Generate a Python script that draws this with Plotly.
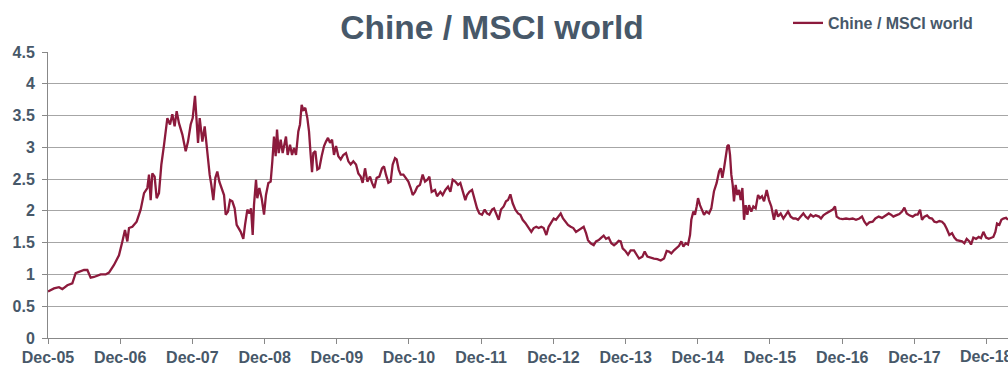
import numpy as np
import pandas as pd
import plotly.graph_objects as go

# years elapsed since Dec-05 and ratio values
t_years = [
    0.000, 0.083, 0.152, 0.199, 0.268, 0.337, 0.383, 0.429, 0.499, 0.545, 0.591, 0.637, 0.729, 0.799,
    0.845, 0.914, 0.983, 1.030, 1.066, 1.099, 1.122, 1.168, 1.228, 1.283, 1.330, 1.376, 1.399, 1.422,
    1.445, 1.477, 1.505, 1.537, 1.570, 1.607, 1.653, 1.690, 1.722, 1.754, 1.782, 1.814, 1.861, 1.907,
    1.939, 1.976, 2.004, 2.036, 2.059, 2.078, 2.101, 2.138, 2.170, 2.207, 2.239, 2.262, 2.290, 2.318,
    2.345, 2.373, 2.405, 2.438, 2.461, 2.493, 2.521, 2.553, 2.585, 2.613, 2.669, 2.705,
    2.729, 2.761, 2.789, 2.812, 2.835, 2.853, 2.881, 2.899, 2.927, 2.959, 2.992, 3.019, 3.052, 3.084,
    3.107, 3.130, 3.153, 3.172, 3.195, 3.223, 3.250, 3.273, 3.296, 3.319, 3.352, 3.380, 3.407, 3.435,
    3.467, 3.490, 3.513, 3.536, 3.564, 3.592, 3.615, 3.638, 3.657, 3.675, 3.703, 3.730, 3.758, 3.790,
    3.823, 3.850, 3.878, 3.906, 3.934, 3.961, 3.989, 4.021, 4.054, 4.090, 4.127, 4.160, 4.192, 4.229,
    4.266, 4.298, 4.331, 4.358, 4.391, 4.423, 4.460, 4.488, 4.520, 4.552, 4.589, 4.626, 4.654, 4.681,
    4.714, 4.746, 4.774, 4.806, 4.829, 4.857, 4.885, 4.922, 4.954, 4.991, 5.023, 5.051, 5.083, 5.115,
    5.152, 5.189, 5.222, 5.254, 5.282, 5.314, 5.360,
    5.388, 5.434, 5.466, 5.503, 5.540, 5.573, 5.605, 5.642, 5.679, 5.711, 5.743, 5.780, 5.803, 5.836,
    5.873, 5.910, 5.942, 5.974, 6.011, 6.048, 6.080, 6.113, 6.150, 6.177, 6.205, 6.242, 6.274, 6.311,
    6.343, 6.371, 6.404, 6.436, 6.473, 6.510, 6.542, 6.574, 6.611, 6.657, 6.694, 6.727, 6.763, 6.796,
    6.833, 6.865, 6.902, 6.934, 6.971, 7.004, 7.036, 7.073, 7.101, 7.133, 7.165, 7.202, 7.239, 7.276,
    7.313, 7.350, 7.387, 7.419, 7.452, 7.479, 7.516, 7.558, 7.590, 7.627, 7.664, 7.696, 7.729, 7.765,
    7.802, 7.839, 7.872, 7.904, 7.932, 7.959, 7.996, 8.033,
    8.070, 8.116, 8.153, 8.186, 8.232, 8.264, 8.301, 8.347, 8.393, 8.440, 8.486, 8.532, 8.569, 8.601,
    8.633, 8.670, 8.707, 8.740, 8.772, 8.800, 8.832, 8.864, 8.892, 8.910, 8.938, 8.961, 8.984, 9.003,
    9.030, 9.053, 9.086, 9.118, 9.155, 9.187, 9.224, 9.261, 9.294, 9.317, 9.340, 9.363, 9.386, 9.409,
    9.428, 9.446, 9.464, 9.483, 9.501, 9.524, 9.547, 9.571, 9.594, 9.617, 9.640, 9.663, 9.686, 9.709,
    9.741, 9.769, 9.801, 9.834, 9.861, 9.889, 9.917, 9.954, 9.986, 10.018, 10.055, 10.083, 10.111,
    10.148, 10.185, 10.217, 10.249, 10.286, 10.323, 10.356, 10.388, 10.425, 10.462, 10.494, 10.526,
    10.563, 10.600, 10.633, 10.679,
    10.706, 10.739, 10.776, 10.822, 10.868, 10.900, 10.923, 10.960, 11.006, 11.053, 11.099, 11.145,
    11.191, 11.237, 11.274, 11.307, 11.339, 11.376, 11.422, 11.459, 11.505, 11.551, 11.597, 11.644,
    11.676, 11.708, 11.745, 11.791, 11.828, 11.861, 11.893, 11.930, 11.976, 12.013, 12.045, 12.078,
    12.105, 12.138, 12.175, 12.207, 12.244, 12.276, 12.309, 12.345, 12.382, 12.415, 12.447, 12.484,
    12.521, 12.553, 12.586, 12.622, 12.659, 12.692, 12.724, 12.761, 12.784, 12.816, 12.853, 12.890,
    12.922, 12.955, 12.992, 13.029, 13.061, 13.093, 13.121, 13.144, 13.176, 13.204, 13.231, 13.269,
    13.296,
]

ratio = [
    0.73, 0.78, 0.80, 0.77, 0.83, 0.86, 1.02, 1.04, 1.07, 1.07, 0.95, 0.96, 1.00, 1.00,
    1.03, 1.15, 1.30, 1.52, 1.70, 1.52, 1.73, 1.75, 1.83, 2.02, 2.28, 2.36, 2.57, 2.17,
    2.59, 2.54, 2.20, 2.28, 2.73, 3.04, 3.46, 3.36, 3.52, 3.33, 3.57, 3.38, 3.20, 2.94,
    3.09, 3.36, 3.46, 3.81, 3.46, 3.07, 3.46, 3.09, 3.33, 2.88, 2.57, 2.41, 2.17, 2.52,
    2.62, 2.46, 2.36, 2.25, 1.94, 1.99, 2.17, 2.15, 2.04, 1.78, 1.67, 1.56,
    1.78, 2.02, 1.96, 2.04, 1.62, 2.09, 2.49, 2.20, 2.36, 2.20, 1.94, 2.25, 2.44, 2.46,
    2.78, 3.17, 2.86, 3.28, 2.91, 3.12, 2.91, 3.04, 3.17, 2.88, 3.04, 2.88, 2.99, 2.88,
    3.25, 3.36, 3.67, 3.59, 3.62, 3.46, 3.25, 2.88, 2.61, 2.91, 2.94, 2.65, 2.67, 2.86,
    3.02, 3.09, 3.15, 3.07, 3.12, 2.88, 3.02, 2.86, 2.81, 2.88, 2.91, 2.78, 2.73, 2.78,
    2.73, 2.59, 2.54, 2.44, 2.67, 2.46, 2.54, 2.44, 2.36, 2.52, 2.54, 2.67, 2.70, 2.57,
    2.44, 2.46, 2.73, 2.83, 2.81, 2.65, 2.57, 2.57, 2.52, 2.46, 2.36, 2.25, 2.30, 2.38,
    2.41, 2.57, 2.46, 2.49, 2.54, 2.30, 2.33,
    2.23, 2.30, 2.25, 2.33, 2.38, 2.30, 2.49, 2.46, 2.41, 2.44, 2.30, 2.17, 2.25, 2.30,
    2.33, 2.15, 2.04, 1.96, 1.94, 2.02, 1.96, 1.94, 2.02, 2.04, 1.96, 1.86, 2.02, 2.07,
    2.15, 2.17, 2.26, 2.12, 2.02, 1.96, 1.94, 1.86, 1.81, 1.73, 1.67, 1.73, 1.75, 1.73,
    1.75, 1.73, 1.62, 1.75, 1.83, 1.88, 1.86, 1.91, 1.96, 1.88, 1.83, 1.78, 1.75, 1.73,
    1.67, 1.70, 1.73, 1.75, 1.65, 1.54, 1.49, 1.46, 1.52, 1.54, 1.58, 1.61, 1.56, 1.58,
    1.49, 1.46, 1.49, 1.53, 1.52, 1.41, 1.37, 1.31,
    1.38, 1.38, 1.31, 1.25, 1.28, 1.36, 1.28, 1.26, 1.25, 1.24, 1.22, 1.25, 1.37, 1.36,
    1.33, 1.38, 1.41, 1.45, 1.52, 1.44, 1.49, 1.47, 1.62, 1.86, 1.99, 1.94, 2.07, 2.20,
    2.09, 2.02, 1.94, 1.99, 1.96, 2.04, 2.31, 2.44, 2.62, 2.67, 2.52, 2.67, 2.83, 3.02,
    3.04, 2.88, 2.57, 2.41, 2.15, 2.41, 2.25, 2.33, 2.17, 2.36, 1.86, 2.09, 1.94, 2.09,
    1.99, 2.07, 2.04, 2.25, 2.20, 2.23, 2.15, 2.33, 2.17, 2.07, 1.86, 2.02, 1.91,
    1.96, 1.88, 1.94, 1.99, 1.91, 1.88, 1.88, 1.86, 1.91, 1.96, 1.91, 1.88,
    1.94, 1.91, 1.93, 1.91,
    1.88, 1.93, 1.96, 1.99, 2.02, 2.07, 1.91, 1.88, 1.87, 1.88, 1.87, 1.88,
    1.86, 1.88, 1.91, 1.83, 1.78, 1.82, 1.83, 1.88, 1.91, 1.89, 1.92, 1.96,
    1.94, 1.91, 1.93, 1.95, 1.99, 2.05, 1.96, 1.93, 1.91, 1.94, 1.94, 2.02,
    1.86, 1.91, 1.93, 1.89, 1.88, 1.83, 1.82, 1.84, 1.83, 1.79, 1.72, 1.62,
    1.65, 1.58, 1.54, 1.53, 1.52, 1.49, 1.56, 1.52, 1.47, 1.58, 1.56, 1.59,
    1.57, 1.67, 1.58, 1.56, 1.57, 1.59, 1.67, 1.80, 1.78, 1.86, 1.88, 1.89,
    1.86,
]

start_date = pd.Timestamp("2005-12-01")
end_years = 13.296
dates = start_date + pd.to_timedelta(np.array(t_years) * 365.25, unit="D")
x_end = start_date + pd.to_timedelta(end_years * 365.25, unit="D")
last_tick_label = "Dec-18"
last_tick_date = "2018-12-01"

text_color = "#475869"
line_color = "#8C1A3C"
grid_color = "#A6A6A6"
font_family = "Liberation Sans, Arial, sans-serif"

fig = go.Figure()
fig.add_trace(go.Scatter(
    x=dates, y=ratio, mode="lines", name="<b>Chine / MSCI world</b>",
    line=dict(color=line_color, width=2.3),
))

fig.update_layout(
    width=1008, height=365,
    margin=dict(l=48, r=0, t=52, b=27, autoexpand=False),
    paper_bgcolor="white", plot_bgcolor="white",
    font=dict(family=font_family, color=text_color, size=16),
    title=dict(
        text="<b>Chine / MSCI world</b>",
        x=492 / 1008, xanchor="center", xref="container",
        y=1 - 27 / 365, yanchor="middle", yref="container",
        font=dict(size=33.5, color=text_color, family=font_family),
    ),
    showlegend=True,
    legend=dict(
        x=788 / 1008, xanchor="left", xref="container",
        y=1 - 23 / 365, yanchor="middle", yref="container",
        font=dict(size=16, color=text_color, family=font_family),
        bgcolor="rgba(0,0,0,0)", itemwidth=30,
    ),
)

# the last tick label sits partly outside the page; draw it as text so it is kept
fig.add_annotation(
    x=last_tick_date, y=0, xref="x", yref="y",
    text=f"<b>{last_tick_label}</b>", showarrow=False,
    xanchor="center", yanchor="top", yshift=-8,
    font=dict(size=16, color=text_color, family=font_family),
)

fig.update_xaxes(
    type="date", range=[start_date, x_end],
    tick0="2005-12-01", dtick="M12", tickformat="<b>%b-%y</b>",
    ticks="outside", ticklen=5, tickcolor="#888888",
    showline=True, linecolor="#888888", linewidth=1,
    showgrid=False, zeroline=False,
    tickfont=dict(size=16, color=text_color, family=font_family),
)

yvals = [i * 0.5 for i in range(10)]
fig.update_yaxes(
    range=[0, 4.5], tickvals=yvals, ticktext=[f"<b>{v:g}</b>" for v in yvals],
    ticks="outside", ticklen=5, tickcolor="#888888",
    showline=True, linecolor="#888888", linewidth=1,
    showgrid=True, gridcolor=grid_color, gridwidth=1,
    zeroline=False,
    tickfont=dict(size=16, color=text_color, family=font_family),
    ticklabelstandoff=4,
)

fig.write_html("out.html")
